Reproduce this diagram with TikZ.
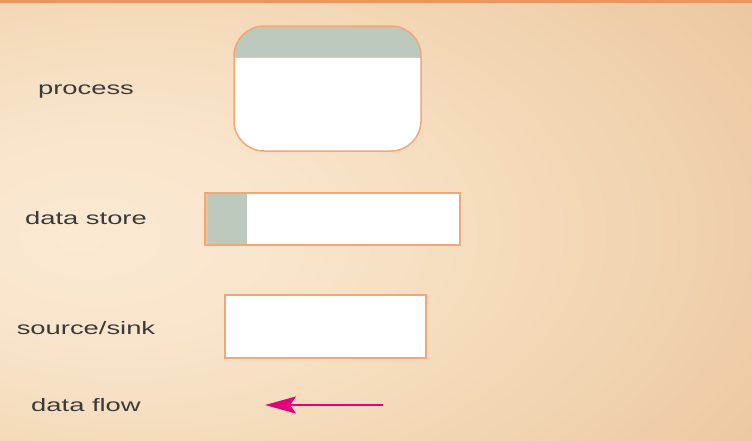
\documentclass[tikz,border=0pt]{standalone}
\usepackage{fontspec}
\setmainfont{Liberation Sans}
\usetikzlibrary{arrows.meta}
\definecolor{glow}{HTML}{FBE9D2}
\definecolor{midbg}{HTML}{F2D6B3}
\definecolor{farbg}{HTML}{E6BD92}
\definecolor{edgebg}{HTML}{DDAE80}
\definecolor{topline}{HTML}{EA9660}
\definecolor{bord}{HTML}{F4A776}
\definecolor{hdr}{HTML}{BDC9BC}
\definecolor{txt}{HTML}{3A3A3A}
\definecolor{flow}{HTML}{E5007E}
\pgfdeclareradialshading{bgglow}{\pgfpoint{-20bp}{-2bp}}{%
  color(0bp)=(glow); color(12bp)=(glow!80!midbg); color(30bp)=(midbg); color(55bp)=(farbg); color(75bp)=(edgebg); color(100bp)=(edgebg)}
\tikzset{
  lab/.style={font=\fontsize{18}{20}\selectfont, text=txt, inner sep=0pt},
  shapebox/.style={draw=bord, line width=1.5pt, fill=white, inner sep=0pt},
}
\newcommand{\wide}[1]{\scalebox{1.52}[1]{#1}}
\begin{document}
\begin{tikzpicture}[x=1pt,y=-1pt]
\useasboundingbox (0,0) rectangle (752,440);
\shade[shading=bgglow] (0,0) rectangle (752,440);
\fill[topline] (0,0) rectangle (752,2.5);
% process
\node[shapebox, rounded corners=30pt, minimum width=187pt, minimum height=125pt,
  path picture={\fill[hdr, sharp corners] (path picture bounding box.north west) rectangle ([yshift=-31pt]path picture bounding box.north east);
  \draw[bord!70!white, line width=1pt, sharp corners] ([yshift=-31pt]path picture bounding box.north west) -- ([yshift=-31pt]path picture bounding box.north east);}]
  (proc) at (327.5,88.5) {};
% data store
\node[shapebox, minimum width=255pt, minimum height=52pt,
  path picture={\fill[hdr] (path picture bounding box.north west) rectangle ([xshift=42pt]path picture bounding box.south west);
  \fill[bord!60!brown!60!white] (path picture bounding box.north west) rectangle ([xshift=3pt]path picture bounding box.south west);}]
  (store) at (332.5,219) {};
% source/sink
\node[shapebox, minimum width=201pt, minimum height=63pt] (sink) at (325.5,326.5) {};
% data flow
\coordinate (fs) at (383,405);
\coordinate (fe) at (265,405);
\draw[flow, line width=2.2pt, -{Stealth[length=31pt, width=17pt, inset=6pt]}] (fs) -- (fe);
% labels
\node[lab] (lproc) at (86,92) {\wide{process}};
\node[lab] (lstore) at (86,218) {\wide{data store}};
\node[lab] (lsink) at (86,328.5) {\wide{source/sink}};
\node[lab] (lflow) at (86,405) {\wide{data flow}};
\end{tikzpicture}
\end{document}
